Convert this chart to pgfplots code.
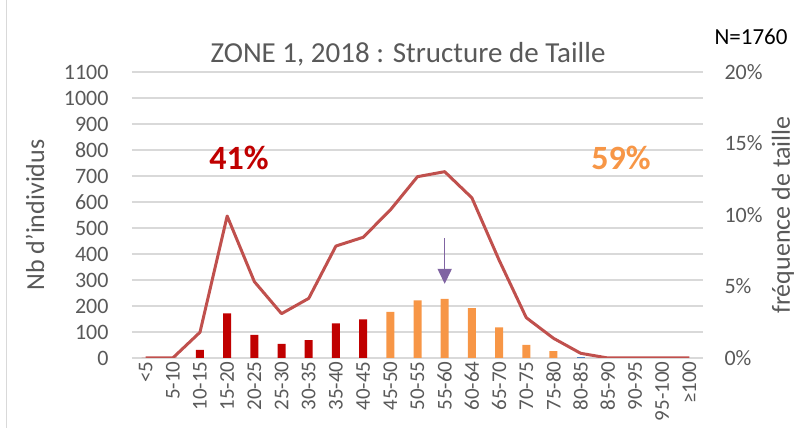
\documentclass[border=0pt]{standalone}
\usepackage{pgfplots}
\pgfplotsset{compat=1.18}
\usepackage{fontspec}
\setmainfont{Carlito}
\usetikzlibrary{arrows.meta}

\definecolor{barred}{HTML}{C00000}
\definecolor{barorange}{HTML}{F79646}
\definecolor{barblue}{HTML}{4F81BD}
\definecolor{linered}{HTML}{C0504D}
\definecolor{arrowpurple}{HTML}{8064A2}
\definecolor{tickgray}{HTML}{595959}
\definecolor{gridgray}{HTML}{D9D9D9}

\pgfplotsset{
  base/.style={
    width=571pt, height=286pt, scale only axis,
    xmin=-0.5, xmax=20.5,
    axis line style={draw=none},
    major tick length=0pt,
    tick label style={font=\fontsize{22}{22}\selectfont, text=tickgray},
    /pgf/number format/assume math mode=true,
    /pgf/number format/1000 sep={},
  }
}

\begin{document}
\begin{tikzpicture}[x=1pt,y=1pt]
\begin{axis}[base,
    ymin=0, ymax=1100, ytick={0,100,...,1100},
    ymajorgrids, grid style={gridgray, line width=1.5pt},
    yticklabel style={anchor=east, xshift=-20pt},
    xtick={0,...,20},
    xticklabels={<5,5-10,10-15,15-20,20-25,25-30,30-35,35-40,40-45,45-50,50-55,55-60,60-64,65-70,70-75,75-80,80-85,85-90,90-95,95-100,≥100},
    xticklabel style={rotate=90, anchor=east, font=\fontsize{21}{21}\selectfont},
    ylabel={Nb d'individus},
    every axis y label/.style={at={(axis description cs:0,0.5)}, xshift=-97pt, rotate=90, anchor=center,
      font=\fontsize{26}{26}\selectfont, text=tickgray},
]
\addplot[ybar, bar width=8pt, bar shift=0pt, fill=barred, draw=none] coordinates {
  (0,0) (1,0) (2,31) (3,172) (4,89) (5,54) (6,69) (7,133) (8,149)};
\addplot[ybar, bar width=8pt, bar shift=0pt, fill=barorange, draw=none] coordinates {
  (9,177) (10,222) (11,227) (12,192) (13,118) (14,50) (15,26)};
\addplot[ybar, bar width=8pt, bar shift=0pt, fill=barblue, draw=none] coordinates {
  (16,4)};
\draw[arrowpurple, line width=1.5pt, -{Triangle[width=14pt,length=15pt]}] (axis cs:11,461) -- (axis cs:11,285);
\end{axis}

\begin{axis}[base,
    ymin=0, ymax=20, ytick={0,5,10,15,20},
    yticklabels={0\%,5\%,10\%,15\%,20\%},
    axis y line*=right,
    yticklabel style={anchor=west, xshift=18pt},
    xtick=\empty,
    ylabel={fréquence de taille},
    every axis y label/.style={at={(axis description cs:1,0.5)}, xshift=80pt, rotate=90, anchor=center,
      inner sep=0pt, font=\fontsize{26}{26}\selectfont, text=tickgray},
]
\addplot[linered, line width=3pt, line join=round] coordinates {
  (0,0) (1,0) (2,1.8) (3,9.93) (4,5.34) (5,3.1) (6,4.17) (7,7.83) (8,8.44) (9,10.35)
  (10,12.68) (11,13.03) (12,11.2) (13,6.85) (14,2.82) (15,1.38) (16,0.33) (17,0) (18,0) (19,0) (20,0)};
\end{axis}

\node[anchor=base, font=\fontsize{29}{29}\selectfont, text=tickgray] at (276,295) {ZONE 1, 2018 : Structure de Taille};
\node[anchor=base, font=\fontsize{23}{23}\selectfont, text=black] at (619,313) {N=1760};
\node[anchor=base, font=\bfseries\fontsize{34}{34}\selectfont, text=barred] at (107,188) {41\%};
\node[anchor=base, font=\bfseries\fontsize{34}{34}\selectfont, text=barorange] at (489,188) {59\%};
\draw[gridgray, line width=1pt] (-125,-70) -- (-125,358);

\pgfresetboundingbox
\useasboundingbox (-132,-70) rectangle (666,358);
\end{tikzpicture}
\end{document}
